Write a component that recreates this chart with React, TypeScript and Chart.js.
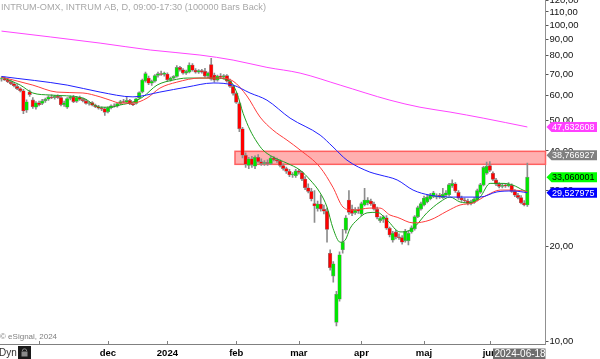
import React, { useEffect, useRef } from 'react';
import { Chart, registerables } from 'chart.js';

Chart.register(...registerables);

// ---------- data ----------
const chartTitle = 'INTRUM-OMX, INTRUM AB, D, 09:00-17:30 (100000 Bars Back)';
const lastDate = '2024-06-18';

const opens = [
  67.5, 67.8, 67.0, 66.0, 65.2, 64.0, 63.0, 62.0, 53.8, 61.5, 58.0, 55.0, 56.8, 56.5, 57.6, 58.3, 59.3, 59.0, 59.6, 59.0,
  56.0, 55.0, 58.6, 59.3, 57.4, 59.0, 58.2, 57.6, 56.5, 56.9, 55.8, 55.2, 54.6, 54.4, 53.2, 54.8, 55.6, 55.4, 56.5, 57.3,
  57.0, 57.8, 56.3, 56.5, 58.8, 61.5, 66.5, 68.0, 65.5, 66.5, 69.3, 70.2, 69.8, 70.0, 67.2, 68.0, 68.8, 73.5, 72.2, 70.5,
  71.0, 74.8, 72.0, 71.0, 71.8, 71.5, 69.0, 75.0, 69.5, 67.0, 69.0, 68.5, 69.2, 66.5, 64.0, 60.8, 56.5, 47.0, 38.8, 36.0,
  37.8, 35.8, 38.2, 37.0, 36.5, 36.8, 36.5, 38.0, 37.5, 37.2, 36.0, 35.2, 34.5, 33.6, 33.4, 34.6, 34.2, 32.6, 30.6, 29.8,
  27.3, 26.3, 27.2, 26.2, 25.8, 19.0, 16.1, 11.5, 13.6, 19.5, 22.5, 28.0, 26.2, 25.5, 26.1, 25.3, 27.0, 27.4, 27.8, 27.2,
  26.2, 24.1, 24.3, 24.6, 22.8, 20.9, 22.2, 21.4, 21.3, 20.8, 20.8, 22.2, 22.7, 24.8, 26.2, 27.0, 27.6, 28.2, 28.7, 28.6,
  29.0, 28.5, 29.0, 29.1, 31.0, 31.5, 29.6, 28.4, 28.0, 27.8, 27.3, 27.5, 28.0, 29.6, 31.2, 34.0, 36.0, 34.0, 32.4, 31.4,
  30.9, 31.2, 31.0, 31.2, 29.8, 29.0, 28.5, 27.4, 27.0,
];
const highs = [
  68.5, 68.5, 67.6, 66.8, 65.8, 64.8, 63.5, 62.6, 58.0, 62.3, 59.0, 57.3, 57.5, 58.2, 58.8, 59.8, 60.2, 60.0, 60.2, 59.5,
  57.5, 59.0, 59.8, 60.0, 59.5, 59.6, 58.8, 58.2, 57.3, 57.3, 56.3, 55.8, 55.2, 55.0, 55.2, 56.0, 56.4, 56.8, 57.8, 58.3,
  59.5, 58.2, 57.2, 58.8, 61.5, 67.5, 71.0, 69.0, 67.0, 69.8, 71.0, 71.5, 71.0, 70.6, 68.5, 69.3, 74.5, 74.0, 72.8, 72.0,
  76.0, 75.5, 72.8, 72.3, 72.5, 73.0, 71.0, 78.5, 70.5, 69.5, 70.2, 69.8, 69.8, 67.5, 64.5, 61.2, 57.0, 47.5, 39.5, 38.2,
  38.5, 38.6, 39.0, 37.8, 37.3, 37.5, 38.5, 38.4, 38.0, 37.5, 36.4, 35.6, 35.0, 34.2, 35.0, 35.0, 34.5, 33.2, 31.5, 30.5,
  30.0, 27.8, 29.0, 27.0, 26.4, 19.5, 17.9, 14.4, 19.2, 22.6, 25.0, 30.0, 27.0, 26.5, 26.6, 27.6, 30.5, 28.5, 28.2, 27.6,
  26.6, 24.8, 25.0, 25.0, 23.0, 22.3, 22.5, 21.9, 21.6, 22.6, 22.4, 23.2, 25.0, 26.8, 27.6, 28.8, 29.0, 29.4, 29.8, 29.3,
  29.4, 30.5, 30.0, 31.6, 32.4, 31.8, 30.0, 28.8, 28.4, 28.2, 28.0, 28.5, 30.3, 31.6, 35.8, 36.9, 37.0, 34.4, 32.8, 31.8,
  31.6, 31.6, 31.8, 31.5, 30.2, 29.4, 28.9, 27.9, 36.6,
];
const lows = [
  66.5, 66.8, 65.8, 64.8, 63.8, 62.5, 61.5, 52.5, 53.0, 59.5, 54.5, 54.2, 55.5, 56.0, 57.0, 57.8, 58.5, 58.3, 58.6, 55.5,
  55.3, 54.5, 58.0, 56.8, 57.0, 57.8, 57.2, 56.2, 55.8, 55.5, 54.8, 54.2, 53.6, 51.8, 52.8, 54.3, 55.0, 55.0, 56.0, 56.8,
  56.6, 56.0, 55.6, 56.2, 58.5, 61.0, 66.0, 64.8, 64.5, 66.0, 68.5, 69.3, 69.0, 66.5, 66.5, 67.5, 68.5, 71.5, 70.0, 69.8,
  70.6, 71.5, 70.5, 70.3, 70.5, 68.5, 68.2, 67.0, 66.0, 66.5, 68.0, 67.5, 66.0, 63.5, 60.0, 56.5, 46.0, 38.0, 35.5, 35.2,
  35.5, 35.2, 36.8, 36.0, 36.0, 36.0, 36.2, 37.2, 36.8, 35.6, 34.8, 34.0, 33.2, 33.0, 33.0, 33.8, 32.2, 30.2, 29.5, 27.8,
  23.8, 25.8, 25.8, 25.3, 20.6, 16.8, 15.4, 11.2, 13.4, 19.0, 22.0, 25.2, 25.0, 25.2, 25.4, 25.0, 26.8, 27.0, 26.9, 26.0,
  24.4, 23.8, 23.8, 22.6, 21.4, 20.6, 21.1, 21.0, 20.3, 20.6, 20.2, 22.0, 22.5, 24.6, 26.0, 26.8, 27.4, 28.0, 28.5, 28.2,
  28.3, 28.3, 28.7, 28.9, 30.7, 29.6, 28.1, 27.7, 27.5, 27.0, 27.0, 27.3, 27.8, 29.4, 31.0, 33.7, 34.4, 32.2, 31.1, 30.6,
  30.6, 30.7, 30.8, 29.6, 28.7, 28.2, 27.2, 26.8, 26.7,
];
const closes = [
  67.8, 67.0, 66.2, 65.2, 64.3, 63.0, 62.0, 53.5, 57.2, 60.3, 55.2, 56.8, 56.0, 57.6, 58.3, 59.3, 59.0, 59.6, 59.0, 56.0,
  56.8, 58.6, 59.3, 57.2, 59.0, 58.2, 57.6, 56.5, 56.9, 55.8, 55.2, 54.6, 54.2, 53.0, 54.8, 55.6, 55.4, 56.5, 57.3, 57.0,
  57.8, 56.3, 56.0, 58.5, 61.2, 67.0, 70.3, 65.5, 66.5, 69.3, 70.2, 69.8, 70.5, 67.2, 68.0, 68.8, 73.5, 72.2, 70.5, 71.5,
  74.8, 72.0, 71.0, 71.8, 71.0, 69.0, 70.5, 67.5, 67.0, 69.0, 68.5, 69.2, 66.5, 64.0, 60.8, 57.0, 47.0, 38.8, 36.3, 37.8,
  36.2, 38.2, 37.0, 36.5, 36.8, 36.5, 38.0, 37.5, 37.2, 36.0, 35.2, 34.5, 33.6, 33.8, 34.6, 34.2, 32.6, 30.6, 29.8, 28.2,
  26.8, 27.2, 26.2, 25.8, 22.6, 17.1, 17.6, 14.1, 18.8, 20.6, 24.6, 25.6, 25.4, 26.1, 25.8, 27.3, 28.0, 28.0, 27.2, 26.2,
  24.7, 24.5, 24.8, 22.8, 21.7, 22.0, 21.4, 21.3, 20.6, 22.3, 22.0, 22.9, 24.8, 26.5, 27.3, 28.4, 28.6, 29.1, 29.5, 28.9,
  28.6, 29.2, 29.5, 31.3, 31.6, 29.9, 28.4, 28.0, 27.8, 27.3, 27.7, 28.2, 30.0, 31.3, 35.5, 35.8, 34.7, 32.5, 31.4, 30.9,
  31.2, 31.0, 31.4, 29.8, 29.0, 28.5, 27.4, 27.0, 33.060001,
];

// moving averages: [bar index, price]
const maShort: [number, number][] = [
  [0, 68.5], [6, 64.6], [10, 61.0], [15.5, 60.1], [26, 58.8], [31.5, 55.0], [34.7, 55.0], [37.9, 55.9], [42, 57.1],
  [45.2, 59.3], [49.7, 64.6], [54.8, 67.0], [59.3, 68.0], [67.6, 68.0], [73, 66.5], [75.2, 61.0], [77.2, 52.6],
  [79.4, 46.6], [81.6, 42.7], [83.5, 40.3], [86.7, 38.3], [91.2, 36.6], [95.4, 34.8], [98.6, 32.4], [101.8, 29.5],
  [104, 26.6], [105.9, 22.8], [108.2, 20.6], [109.8, 20.9], [111.4, 22.8], [113.6, 24.2], [116.8, 25.5], [120, 25.6],
  [123.2, 24.2], [127.3, 22.2], [128.3, 22.2], [131.5, 22.8], [135.9, 25.5], [140.1, 27.6], [143.3, 28.6],
  [146.5, 27.6], [149.7, 27.4], [152.9, 28.6], [156.1, 31.6], [160.2, 31.6], [163.4, 31.2], [166.6, 30.1], [168, 29.7],
];
const maMid: [number, number][] = [
  [0, 68.5], [10, 64.6], [17.7, 61.4], [26, 61.0], [31.5, 59.3], [34.7, 57.9], [37.9, 56.7], [42, 56.7], [46.5, 58.8],
  [50.6, 63.2], [56, 66.0], [63.4, 68.0], [69.8, 68.0], [74, 66.5], [78.4, 59.7], [82.6, 51.2], [86.7, 46.6],
  [91.2, 43.3], [95.4, 40.3], [101.8, 35.5], [105.9, 30.7], [109.1, 26.6], [112.3, 26.0], [117.7, 26.4], [120.9, 26.4],
  [124.1, 25.1], [126.4, 24.7], [131.5, 23.7], [136.9, 24.2], [142.3, 25.8], [146.5, 27.0], [150.6, 27.4],
  [155.1, 29.0], [159.3, 30.1], [163.4, 30.1], [168, 29.8],
];
const maLong: [number, number][] = [
  [0, 68.8], [21, 64.6], [31.5, 61.4], [42, 59.3], [50.6, 61.4], [59.3, 63.7], [67.6, 65.6], [74, 64.6], [79.4, 61.0],
  [84.8, 57.9], [92.2, 50.8], [101.8, 44.9], [105.9, 41.2], [110.4, 37.4], [117.7, 34.3], [120.9, 33.6], [126.4, 32.4],
  [131.5, 30.1], [136.9, 29.0], [144.3, 28.6], [152.9, 28.6], [158.3, 29.7], [163.4, 29.9], [168, 29.527975],
];
const ma200: [number, number][] = [
  [0, 95.7], [31.5, 87.7], [47.5, 83.4], [63.4, 80.4], [74, 77.5], [84.8, 73.5], [95.4, 70.5], [108.2, 64.6],
  [124.1, 57.9], [133.7, 55.0], [143.3, 53.1], [153.9, 50.8], [168, 47.632608],
];

const monthTickIdx = [12, 34, 53, 75, 95, 115, 135, 156];
const monthLabels = ['', 'dec', '2024', 'feb', 'mar', 'apr', 'maj', 'jun'];
const priceTicks = [10, 20, 30, 40, 50, 60, 70, 80, 90, 100, 110, 120];

const zoneStartIdx = 74.6;
const zoneLow = 36.3;
const zoneHigh = 39.9;

const tagValues = [47.632608, 38.766927, 33.060001, 29.527975];
const tagFill = ['#ff40ff', '#808080', '#00ff00', '#0000ff'];
const tagText = ['#ffffff', '#ffffff', '#000000', '#ffffff'];

const fmt = (v: number, d: number) => v.toFixed(d).replace('.', ',');
const FONT = '"Liberation Sans", Arial, sans-serif';

export default function App() {
  const ref = useRef<HTMLCanvasElement | null>(null);

  useEffect(() => {
    document.body.style.margin = '0';
    const canvas = ref.current;
    if (!canvas) return;

    const idx = opens.map((_, i) => i);
    const bodyColors = idx.map((i) => (closes[i] >= opens[i] ? '#00e600' : '#ff0000'));

    const overlay = {
      id: 'overlay',
      beforeDatasetsDraw(chart: any) {
        const { ctx, chartArea, scales } = chart;
        const x0 = scales.x.getPixelForValue(zoneStartIdx);
        const yt = scales.y.getPixelForValue(zoneHigh);
        const yb = scales.y.getPixelForValue(zoneLow);
        ctx.save();
        ctx.fillStyle = '#ffb0b0';
        ctx.fillRect(x0, yt, chartArea.right - x0, yb - yt);
        ctx.strokeStyle = '#ff6060';
        ctx.lineWidth = 1.5;
        ctx.strokeRect(x0, yt, chartArea.right - x0, yb - yt);
        ctx.restore();
      },
      afterDraw(chart: any) {
        const { ctx, chartArea, scales } = chart;
        ctx.save();
        // title
        ctx.fillStyle = '#a8a8a8';
        ctx.font = `9.2px ${FONT}`;
        ctx.textAlign = 'left';
        ctx.textBaseline = 'alphabetic';
        ctx.fillText(chartTitle, 1, 9.5);
        // copyright
        ctx.fillStyle = '#808080';
        ctx.font = `8px ${FONT}`;
        ctx.fillText('\u00a9 eSignal, 2024', 0, 338.5);
        // x tick marks (upward)
        ctx.strokeStyle = '#808080';
        ctx.lineWidth = 1;
        scales.x.ticks.forEach((t: any) => {
          const px = Math.round(scales.x.getPixelForValue(t.value)) + 0.5;
          ctx.beginPath();
          ctx.moveTo(px, chartArea.bottom);
          ctx.lineTo(px, chartArea.bottom - 3);
          ctx.stroke();
        });
        // Dyn + lock
        ctx.fillStyle = '#333333';
        ctx.font = `10px ${FONT}`;
        ctx.textBaseline = 'middle';
        ctx.fillText('Dyn', -1, 353.5);
        ctx.fillStyle = '#1a1a1a';
        ctx.fillRect(18, 346, 13, 13);
        ctx.strokeStyle = '#8a8a8a';
        ctx.lineWidth = 1;
        ctx.beginPath();
        ctx.arc(24.5, 351, 2.2, Math.PI, 0);
        ctx.stroke();
        ctx.fillStyle = '#8a8a8a';
        ctx.fillRect(21.5, 351.5, 6, 5);
        // date box
        ctx.fillStyle = '#6e6e6e';
        ctx.fillRect(493, 348.5, chartArea.right - 493, 10.5);
        ctx.fillStyle = '#ffffff';
        ctx.font = `10px ${FONT}`;
        ctx.textAlign = 'left';
        ctx.fillText(lastDate, 494.5, 354);
        // value tags
        tagValues.forEach((v, k) => {
          const y = scales.y.getPixelForValue(v);
          const x0 = chartArea.right + 1;
          const h = 5;
          ctx.fillStyle = tagFill[k];
          ctx.beginPath();
          ctx.moveTo(x0, y);
          ctx.lineTo(x0 + 5, y - h);
          ctx.lineTo(597, y - h);
          ctx.lineTo(597, y + h);
          ctx.lineTo(x0 + 5, y + h);
          ctx.closePath();
          ctx.fill();
          ctx.fillStyle = tagText[k];
          ctx.font = `9px ${FONT}`;
          ctx.textBaseline = 'middle';
          ctx.fillText(fmt(v, 6), x0 + 5.5, y + 0.5);
        });
        ctx.restore();
      },
    };

    const lineDs = (pts: [number, number][], color: string) => ({
      type: 'line' as const,
      data: pts.map(([x, y]) => ({ x, y })),
      borderColor: color,
      borderWidth: 1,
      pointRadius: 0,
      cubicInterpolationMode: 'monotone' as const,
      order: -1,
    });

    const chart = new Chart(canvas, {
      type: 'bar',
      data: {
        datasets: [
          {
            type: 'bar',
            data: idx.map((i) => ({ x: i, y: [lows[i], highs[i]] })) as any,
            backgroundColor: '#8c8c8c',
            barThickness: 1,
            grouped: false,
            order: 2,
          },
          {
            type: 'bar',
            data: idx.map((i) => ({ x: i, y: [opens[i], closes[i]] })) as any,
            backgroundColor: bodyColors,
            borderColor: '#8a8a8a',
            borderWidth: { left: 0.6, right: 0.6, top: 0.6, bottom: 0.6 },
            borderSkipped: false,
            barThickness: 3.6,
            grouped: false,
            order: 1,
          },
          lineDs(ma200, '#ff44ff') as any,
          lineDs(maLong, '#2020ff') as any,
          lineDs(maMid, '#ff3c3c') as any,
          lineDs(maShort, '#1ea01e') as any,
        ],
      },
      options: {
        animation: false,
        responsive: false,
        maintainAspectRatio: false,
        events: [],
        layout: { padding: 0, autoPadding: false },
        plugins: { legend: { display: false }, tooltip: { enabled: false }, title: { display: false } },
        scales: {
          x: {
            type: 'linear',
            min: -0.48,
            max: 173.8,
            offset: false,
            position: 'bottom',
            grid: { display: false, drawTicks: false, tickLength: 0 },
            border: { display: true, color: '#808080', width: 1 },
            afterBuildTicks: (s: any) => {
              s.ticks = monthTickIdx.map((v) => ({ value: v }));
            },
            afterFit: (s: any) => {
              s.height = 15;
              s.paddingLeft = 0;
              s.paddingRight = 0;
            },
            ticks: {
              autoSkip: false,
              maxRotation: 0,
              padding: 4,
              color: '#000000',
              font: { family: FONT, size: 9.5, weight: 'bold' },
              callback: (v: any) => {
                const k = monthTickIdx.indexOf(Number(v));
                return k >= 0 ? monthLabels[k] : '';
              },
            },
          },
          y: {
            type: 'logarithmic',
            position: 'right',
            min: 9.82,
            max: 120,
            grid: { display: true, drawOnChartArea: false, drawTicks: true, tickLength: 3, color: '#555555' },
            border: { display: true, color: '#909090', width: 1 },
            afterBuildTicks: (s: any) => {
              s.ticks = priceTicks.map((v) => ({ value: v }));
            },
            afterFit: (s: any) => {
              s.width = 54.5;
              s.paddingTop = 0;
              s.paddingBottom = 0;
            },
            ticks: {
              autoSkip: false,
              padding: 1,
              color: '#111111',
              font: { family: FONT, size: 9.5 },
              callback: (v: any) => fmt(Number(v), 2),
            },
          },
        },
      },
      plugins: [overlay],
    });

    return () => chart.destroy();
  }, []);

  return (
    <div style={{ width: 600, height: 359, background: '#ffffff' }}>
      <canvas ref={ref} width={600} height={359} style={{ display: 'block' }} />
    </div>
  );
}
